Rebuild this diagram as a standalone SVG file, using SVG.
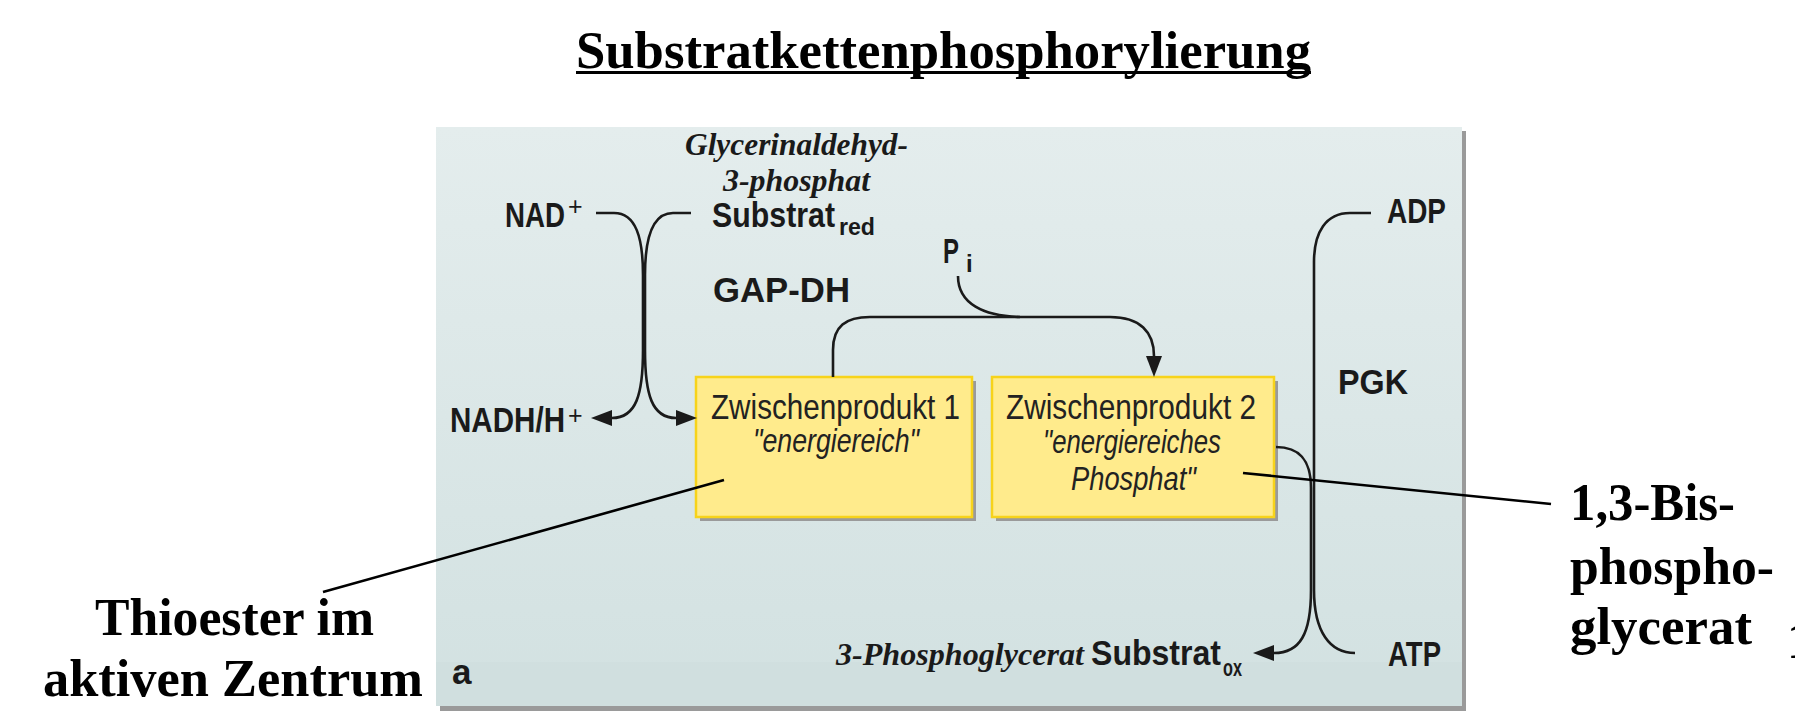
<svg xmlns="http://www.w3.org/2000/svg" width="1795" height="727" viewBox="0 0 1795 727">
<style>
.lbl{font-family:"Liberation Sans",Arial,sans-serif;font-weight:bold;font-size:35px;fill:#1a1a1a}
.sup{font-family:"Liberation Sans",Arial,sans-serif;font-size:25px;fill:#1a1a1a}
.sub{font-family:"Liberation Sans",Arial,sans-serif;font-weight:bold;font-size:24px;fill:#1a1a1a}
.bx{font-family:"Liberation Sans",Arial,sans-serif;font-size:35px;fill:#222}
.bxi{font-family:"Liberation Sans",Arial,sans-serif;font-style:italic;font-size:34px;fill:#222}
.ser{font-family:"Liberation Serif","Times New Roman",serif;font-weight:bold;font-size:52px;fill:#000}
.seri{font-family:"Liberation Serif","Times New Roman",serif;font-weight:bold;font-style:italic;font-size:31px;fill:#1a1a1a}
.ln{fill:none;stroke:#1a1a1a;stroke-width:2.6}
.ptr{fill:none;stroke:#000;stroke-width:2.6}
.box{fill:#ffeb8c;stroke:#f7d31a;stroke-width:2.5}
.shd{fill:#9a9a9a}
</style>
<defs>
<linearGradient id="bg" x1="0" y1="0" x2="0" y2="1">
<stop offset="0" stop-color="#e4eded"/>
<stop offset="1" stop-color="#d2e1e1"/>
</linearGradient>
<marker id="arr" viewBox="0 0 21 16" refX="0" refY="8" markerWidth="21" markerHeight="16" markerUnits="userSpaceOnUse" orient="auto">
<path d="M0,0 L21,8 L0,16 Z" fill="#1a1a1a"/>
</marker>
</defs>
<rect width="1795" height="727" fill="#fff"/>
<g id="title">
<text x="576" y="68" class="ser" font-size="53" textLength="735" lengthAdjust="spacingAndGlyphs">Substratkettenphosphorylierung</text>
<rect x="576" y="71" width="735" height="3" fill="#000"/>
</g>
<g id="panel">
<rect x="440" y="131" width="1026" height="580" class="shd"/>
<rect x="436" y="127" width="1026" height="579" fill="url(#bg)"/>
<rect x="436" y="662" width="1026" height="44" fill="#cfdede" opacity="0.6"/>
<text x="452" y="684" class="lbl" font-size="32">a</text>
</g>
<g id="box1">
<rect x="700" y="381" width="276" height="140" class="shd"/>
<rect x="696" y="377" width="276" height="140" class="box"/>
<text x="711" y="419" class="bx" textLength="249" lengthAdjust="spacingAndGlyphs">Zwischenprodukt 1</text>
<text x="753" y="452" class="bxi" textLength="166" lengthAdjust="spacingAndGlyphs">"energiereich"</text>
</g>
<g id="box2">
<rect x="996" y="381" width="282" height="140" class="shd"/>
<rect x="992" y="377" width="282" height="140" class="box"/>
<text x="1006" y="419" class="bx" textLength="250" lengthAdjust="spacingAndGlyphs">Zwischenprodukt 2</text>
<text x="1043" y="453" class="bxi" textLength="178" lengthAdjust="spacingAndGlyphs">"energiereiches</text>
<text x="1071" y="490" class="bxi" textLength="125" lengthAdjust="spacingAndGlyphs">Phosphat"</text>
</g>
<g id="nad">
<text x="505" y="227" class="lbl" textLength="60" lengthAdjust="spacingAndGlyphs">NAD</text>
<text x="568" y="215" class="sup">+</text>
</g>
<g id="nadh">
<text x="450" y="432" class="lbl" textLength="115" lengthAdjust="spacingAndGlyphs">NADH/H</text>
<text x="568" y="424" class="sup">+</text>
</g>
<g id="substrat-red">
<text x="685" y="155" class="seri" textLength="223" lengthAdjust="spacingAndGlyphs">Glycerinaldehyd-</text>
<text x="723" y="191" class="seri" textLength="147" lengthAdjust="spacingAndGlyphs">3-phosphat</text>
<text x="712" y="227" class="lbl" textLength="123" lengthAdjust="spacingAndGlyphs">Substrat</text>
<text x="839" y="235" class="sub" textLength="36" lengthAdjust="spacingAndGlyphs">red</text>
</g>
<g id="gapdh">
<text x="713" y="302" class="lbl" textLength="137" lengthAdjust="spacingAndGlyphs">GAP-DH</text>
</g>
<g id="pi">
<text x="943" y="263" class="lbl" textLength="16" lengthAdjust="spacingAndGlyphs">P</text>
<text x="966" y="272" class="sub">i</text>
</g>
<g id="pgk">
<text x="1338" y="394" class="lbl" textLength="70" lengthAdjust="spacingAndGlyphs">PGK</text>
</g>
<g id="adp">
<text x="1387" y="223" class="lbl" textLength="59" lengthAdjust="spacingAndGlyphs">ADP</text>
</g>
<g id="atp">
<text x="1388" y="666" class="lbl" textLength="53" lengthAdjust="spacingAndGlyphs">ATP</text>
</g>
<g id="substrat-ox">
<text x="836" y="665" class="seri" textLength="248" lengthAdjust="spacingAndGlyphs">3-Phosphoglycerat</text>
<text x="1091" y="665" class="lbl" textLength="130" lengthAdjust="spacingAndGlyphs">Substrat</text>
<text x="1223" y="676" class="sub" textLength="19" lengthAdjust="spacingAndGlyphs">ox</text>
</g>
<g id="thioester">
<text x="95" y="635" class="ser" textLength="279" lengthAdjust="spacingAndGlyphs">Thioester im</text>
<text x="43" y="696" class="ser" textLength="380" lengthAdjust="spacingAndGlyphs">aktiven Zentrum</text>
</g>
<g id="bisphosphoglycerat">
<text x="1570" y="520" class="ser" textLength="165" lengthAdjust="spacingAndGlyphs">1,3-Bis-</text>
<text x="1570" y="584" class="ser" textLength="204" lengthAdjust="spacingAndGlyphs">phospho-</text>
<text x="1570" y="644" class="ser" textLength="182" lengthAdjust="spacingAndGlyphs">glycerat</text>
<text x="1787" y="658" class="ser" font-size="37">1</text>
</g>
<g id="connectors">
<path class="ln" d="M596 213 H614 C636 213 643 238 643 275 V350 C643 395 636 418 612 418" marker-end="url(#arr)"/>
<path class="ln" d="M691 213 H673 C652 213 645 238 645 275 V350 C645 395 652 418 676 418" marker-end="url(#arr)"/>
<path class="ln" d="M833 377 V350 C833 326 846 317 870 317 H1110 C1140 317 1154 332 1154 356" marker-end="url(#arr)"/>
<path class="ln" d="M958 276 C958 304 984 316 1020 317"/>
<path class="ln" d="M1371 213 H1350 C1326 213 1314 232 1314 262 V590 C1314 632 1330 653 1355 653"/>
<path class="ln" d="M1276 447 C1298 447 1311 458 1311 488 V590 C1311 634 1300 653 1274 653" marker-end="url(#arr)"/>
<path class="ptr" d="M323 592 L724 480"/>
<path class="ptr" d="M1243 473 L1551 504"/>
</g>
</svg>
